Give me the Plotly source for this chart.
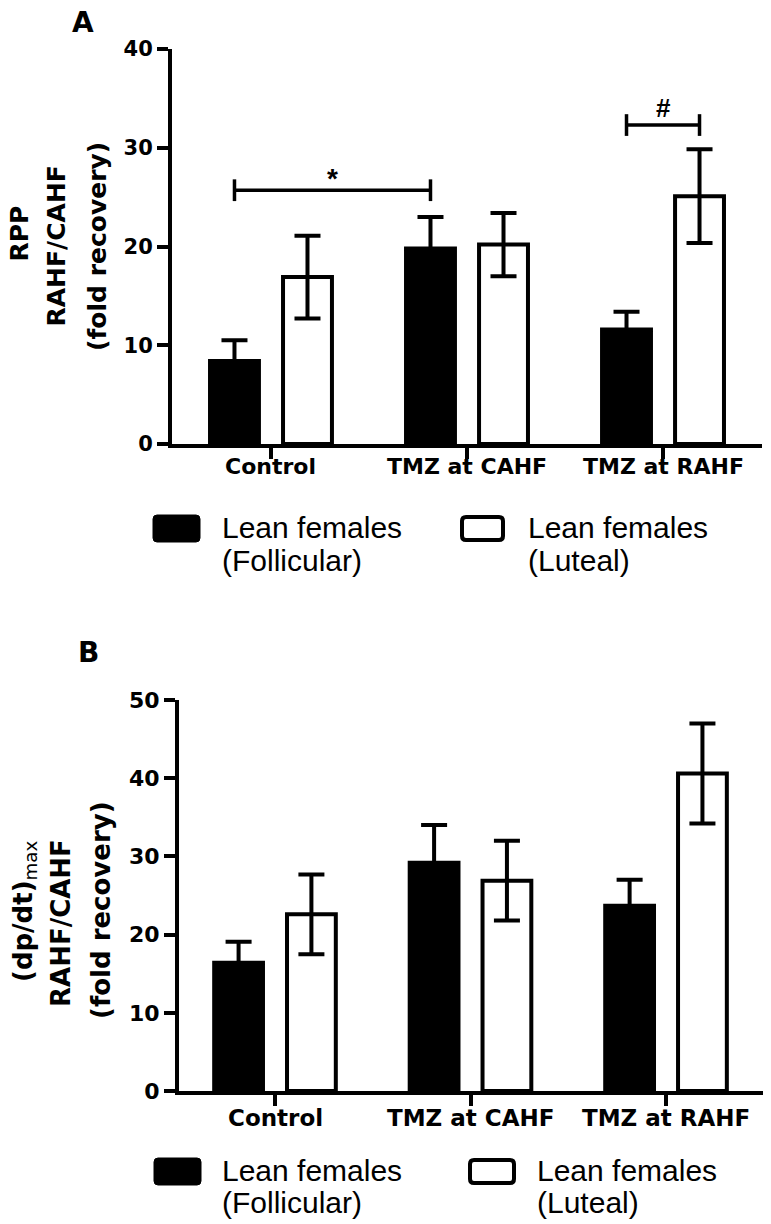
import plotly.graph_objects as go

# ---------------- data ----------------
categories = ["Control", "TMZ at CAHF", "TMZ at RAHF"]
series_follicular = "Lean females (Follicular)"
series_luteal = "Lean females (Luteal)"

rpp_follicular = [8.4, 19.8, 11.6]
rpp_follicular_sem = [2.1, 3.2, 1.8]
rpp_luteal = [16.9, 20.2, 25.1]
rpp_luteal_sem = [4.2, 3.2, 4.75]

dpdt_follicular = [16.4, 29.2, 23.7]
dpdt_follicular_sem = [2.7, 4.8, 3.3]
dpdt_luteal = [22.6, 26.9, 40.6]
dpdt_luteal_sem = [5.1, 5.1, 6.4]

yticks_a = [0, 10, 20, 30, 40]
yticks_b = [0, 10, 20, 30, 40, 50]

# significance markers (panel A)
star_pair = [0, 1]        # follicular Control vs follicular TMZ at CAHF
star_level = 25.7
hash_group = 2            # follicular vs luteal within TMZ at RAHF
hash_level = 32.3

# ---------------- style ----------------
W, H = 771, 1224
BARGAP = 0.255
BARGROUPGAP = 0.33
TICKFONT = "DejaVu Sans"
LEGFONT = "Liberation Sans"
cat_idx = list(range(len(categories)))


def px(x):
    return x / W


def py(y):
    return 1 - y / H


fig = go.Figure()


def add_bars(xa, ya, fol, fol_e, lut, lut_e):
    fig.add_trace(go.Bar(
        x=cat_idx, y=fol, name=series_follicular, xaxis=xa, yaxis=ya,
        marker=dict(color="black", line=dict(color="black", width=4)),
        error_y=dict(type="data", array=fol_e, color="black", thickness=4, width=13),
        offsetgroup="f", showlegend=False))
    fig.add_trace(go.Bar(
        x=cat_idx, y=lut, name=series_luteal, xaxis=xa, yaxis=ya,
        marker=dict(color="white", line=dict(color="black", width=4)),
        error_y=dict(type="data", array=lut_e, color="black", thickness=4, width=13),
        offsetgroup="l", showlegend=False))


add_bars("x", "y", rpp_follicular, rpp_follicular_sem, rpp_luteal, rpp_luteal_sem)
add_bars("x2", "y2", dpdt_follicular, dpdt_follicular_sem, dpdt_luteal, dpdt_luteal_sem)

# significance brackets
off = (1 - BARGAP) / 4
tick_half = 1.1


def bracket(x0, x1, lvl):
    xs = [x0, x0, None, x0, x1, None, x1, x1]
    ys = [lvl - tick_half, lvl + tick_half, None, lvl, lvl, None, lvl - tick_half, lvl + tick_half]
    fig.add_trace(go.Scatter(x=xs, y=ys, mode="lines", xaxis="x", yaxis="y",
                             line=dict(color="black", width=3.5),
                             showlegend=False, hoverinfo="skip"))


sx0, sx1 = star_pair[0] - off, star_pair[1] - off
bracket(sx0, sx1, star_level)
hx0, hx1 = hash_group - off, hash_group + off
bracket(hx0, hx1, hash_level)

annotations = [
    dict(x=(sx0 + sx1) / 2, y=star_level, xref="x", yref="y", text="<b>*</b>",
         showarrow=False, yanchor="bottom", yshift=-6,
         font=dict(family=LEGFONT, size=28, color="black")),
    dict(x=(hx0 + hx1) / 2, y=hash_level, xref="x", yref="y", text="<b>#</b>",
         showarrow=False, yanchor="bottom", yshift=0,
         font=dict(family=LEGFONT, size=26, color="black")),
]

# category labels under each panel
for xref, ypix, size in (("x", 466, 22), ("x2", 1118, 23)):
    for i, cat in zip(cat_idx, categories):
        annotations.append(dict(x=i, y=py(ypix), xref=xref, yref="paper",
                                text=f"<b>{cat}</b>", showarrow=False,
                                xanchor="center", yanchor="middle",
                                font=dict(family=TICKFONT, size=size, color="black")))

# panel letters
annotations.append(dict(x=px(83), y=py(22), xref="paper", yref="paper", text="<b>A</b>",
                        showarrow=False, xanchor="center", yanchor="middle",
                        font=dict(family=TICKFONT, size=28, color="black")))
annotations.append(dict(x=px(88), y=py(652), xref="paper", yref="paper", text="<b>B</b>",
                        showarrow=False, xanchor="center", yanchor="middle",
                        font=dict(family=TICKFONT, size=28, color="black")))

# y-axis titles (one annotation per line)
ytitle_a = [("<b>RPP</b>", 19.5, 234), ("<b>RAHF/CAHF</b>", 56.5, 246),
            ("<b>(fold recovery)</b>", 98, 247)]
ytitle_b = [("<b>(dp/dt)</b><sub>max</sub>", 24, 912), ("<b>RAHF/CAHF</b>", 61, 923),
            ("<b>(fold recovery)</b>", 101, 910)]
for lines, size in ((ytitle_a, 25), (ytitle_b, 26)):
    for txt, xx, yy in lines:
        annotations.append(dict(x=px(xx), y=py(yy), xref="paper", yref="paper", text=txt,
                                textangle=-90, showarrow=False, xanchor="center",
                                yanchor="middle",
                                font=dict(family=TICKFONT, size=size, color="black")))

# custom legends
shapes = []


def rrect(x0, y0, x1, y1, r):
    X0, X1 = px(x0), px(x1)
    Y0, Y1 = py(y0), py(y1)
    rx, ry = r / W, r / H
    return (f"M {X0+rx},{Y0} L {X1-rx},{Y0} Q {X1},{Y0} {X1},{Y0-ry} "
            f"L {X1},{Y1+ry} Q {X1},{Y1} {X1-rx},{Y1} L {X0+rx},{Y1} "
            f"Q {X0},{Y1} {X0},{Y1+ry} L {X0},{Y0-ry} Q {X0},{Y0} {X0+rx},{Y0} Z")


def legend(top, box1_x, text1_x, box2_x, text2_x, l1, l2):
    shapes.append(dict(type="path", xref="paper", yref="paper",
                       path=rrect(box1_x[0], top, box1_x[1], top + 27, 4),
                       fillcolor="black", line=dict(color="black", width=1)))
    shapes.append(dict(type="path", xref="paper", yref="paper",
                       path=rrect(box2_x[0] + 2, top + 2, box2_x[1] - 2, top + 25, 4),
                       fillcolor="white", line=dict(color="black", width=4)))
    for tx, (a, b) in ((text1_x, ("Lean females", "(Follicular)")),
                       (text2_x, ("Lean females", "(Luteal)"))):
        annotations.append(dict(x=px(tx), y=py(l1), xref="paper", yref="paper", text=a,
                                showarrow=False, xanchor="left", yanchor="middle",
                                font=dict(family=LEGFONT, size=30, color="black")))
        annotations.append(dict(x=px(tx), y=py(l2), xref="paper", yref="paper", text=b,
                                showarrow=False, xanchor="left", yanchor="middle",
                                font=dict(family=LEGFONT, size=30, color="black")))


legend(515, (153, 200), 220, (460, 505), 526, 527.5, 560.5)
legend(1158, (154, 201), 220, (468, 516), 535, 1170.5, 1202)

axis_common = dict(showline=True, linewidth=4, linecolor="black", ticks="outside",
                   ticklen=11, tickwidth=3.5, tickcolor="black", showgrid=False,
                   zeroline=False, fixedrange=True, automargin=False)

fig.update_layout(
    template="none",
    width=W, height=H, margin=dict(l=0, r=0, t=0, b=0, pad=0, autoexpand=False),
    paper_bgcolor="white", plot_bgcolor="white",
    barmode="group", bargap=BARGAP, bargroupgap=BARGROUPGAP,
    showlegend=False,
    xaxis=dict(domain=[px(172), px(762)], anchor="y", range=[-0.505, 2.505],
               tickvals=cat_idx, showticklabels=False, **axis_common),
    yaxis=dict(domain=[py(444), py(49)], anchor="x", range=[0, yticks_a[-1]],
               tickvals=yticks_a,
               tickfont=dict(family=TICKFONT, size=21, color="black", weight="bold"),
               **axis_common),
    xaxis2=dict(domain=[px(179), px(763)], anchor="y2", range=[-0.491, 2.496],
                tickvals=cat_idx, showticklabels=False, **axis_common),
    yaxis2=dict(domain=[py(1091), py(700)], anchor="x2", range=[0, yticks_b[-1]],
                tickvals=yticks_b,
                tickfont=dict(family=TICKFONT, size=22, color="black", weight="bold"),
                **axis_common),
    annotations=annotations,
    shapes=shapes,
)

post_js = (
    "var gd=document.getElementById('{plot_id}');"
    "gd.style.position='fixed';gd.style.top='0px';gd.style.left='0px';"
    "document.body.style.margin='0px';document.body.style.padding='0px';"
    "document.body.style.overflow='hidden';"
    "document.documentElement.style.overflow='hidden';"
)

fig.write_html("out.html", config={"displayModeBar": False}, post_script=post_js)
